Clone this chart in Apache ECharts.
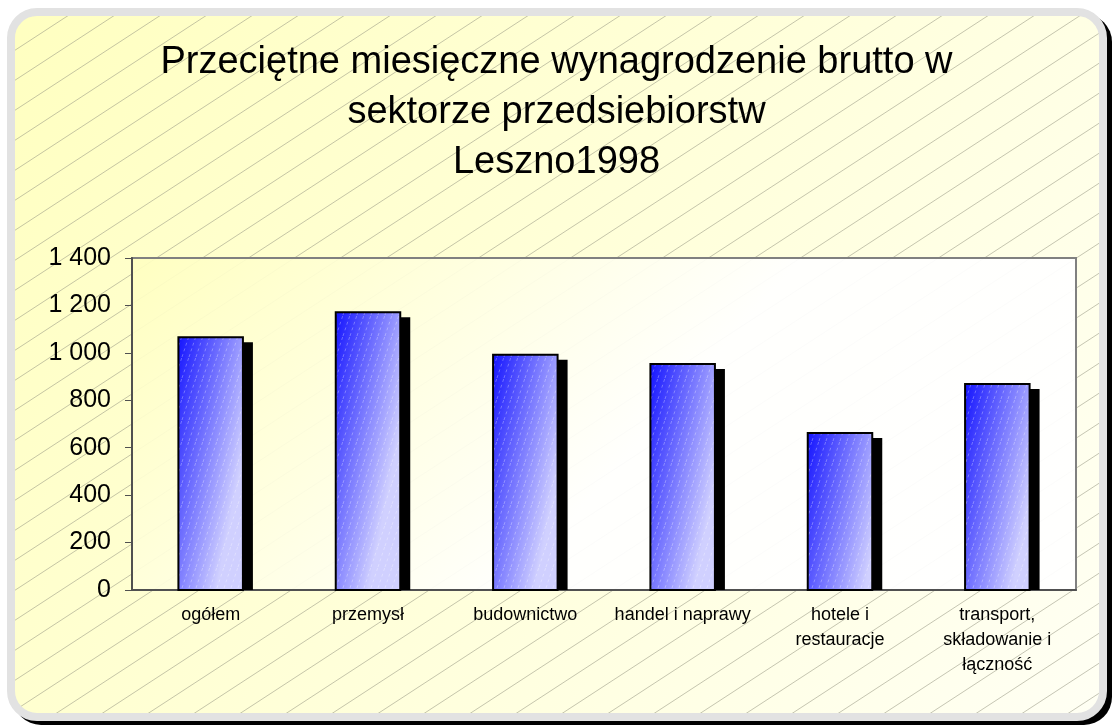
<!DOCTYPE html>
<html>
<head>
<meta charset="utf-8">
<script src="https://cdn.jsdelivr.net/npm/echarts@6/dist/echarts.min.js"></script>
<style>
  html, body { margin: 0; padding: 0; background: #fff; }
  #main { width: 1113px; height: 726px; }
</style>
</head>
<body>
<div id="main"></div>
<script>
// dane z wykresu
var categories = ['ogółem', 'przemysł', 'budownictwo', 'handel i naprawy', 'hotele i\nrestauracje', 'transport,\nskładowanie i\nłączność'];
var wages = [1066, 1171, 992, 953, 662, 869];
var titleText = 'Przeciętne miesięczne wynagrodzenie brutto w\nsektorze przedsiebiorstw\nLeszno1998';

// wzorek ukośnych linii na tło
function hatch() {
  var c = document.createElement('canvas');
  c.width = 46; c.height = 30;
  var ctx = c.getContext('2d');
  ctx.strokeStyle = 'rgba(150,150,130,0.55)';
  ctx.lineWidth = 1;
  for (var k = -1; k <= 1; k++) {
    ctx.beginPath();
    ctx.moveTo(-2, 30 + 30 * 2 / 46 + k * 30);
    ctx.lineTo(48, 30 - 30 * 48 / 46 + k * 30);
    ctx.stroke();
  }
  return c;
}

// jasne kreski na słupkach
function barHatch() {
  var c = document.createElement('canvas');
  c.width = 7; c.height = 21;
  var ctx = c.getContext('2d');
  ctx.strokeStyle = 'rgba(255,255,255,0.3)';
  ctx.lineWidth = 1;
  ctx.setLineDash([3, 3]);
  for (var k = -1; k <= 1; k++) {
    ctx.beginPath();
    ctx.moveTo(k * 7, 21);
    ctx.lineTo(k * 7 + 7, 0);
    ctx.stroke();
  }
  return c;
}
var barPattern = barHatch();

var myChart = echarts.init(document.getElementById('main'));

var option = {
  animation: false,
  title: {
    text: titleText,
    left: 'center',
    top: 33,
    textStyle: { fontFamily: 'Liberation Sans', fontWeight: 'normal', fontSize: 38, lineHeight: 50, color: '#000' }
  },
  graphic: [
    {
      type: 'rect', z: -12, shape: { x: 13, y: 14, width: 1099, height: 711, r: 28 },
      style: { fill: '#000' }
    },
    {
      type: 'rect', z: -11, shape: { x: 11, y: 12, width: 1092, height: 705, r: 26 },
      style: {
        fill: new echarts.graphic.LinearGradient(0, 0, 1, 1, [
          { offset: 0, color: '#ffffc0' },
          { offset: 1, color: '#fffff4' }
        ]),
        stroke: '#e2e2e2', lineWidth: 8
      }
    },
    {
      type: 'rect', z: -10, shape: { x: 15, y: 16, width: 1084, height: 697, r: 22 },
      style: { fill: { image: hatch(), repeat: 'repeat' } }
    }
  ],
  grid: {
    left: 132, top: 258, right: 37, bottom: 136,
    show: true,
    backgroundColor: new echarts.graphic.LinearGradient(0, 0, 0.4, 1, [
      { offset: 0, color: 'rgba(255,255,192,0.92)' },
      { offset: 1, color: 'rgba(255,255,255,0.94)' }
    ]),
    borderColor: '#808080', borderWidth: 2
  },
  xAxis: {
    type: 'category',
    data: categories,
    axisLine: { lineStyle: { color: '#505050', width: 2 } },
    axisTick: { length: 6, lineStyle: { color: '#505050' } },
    axisLabel: { fontFamily: 'Liberation Sans', fontSize: 18, lineHeight: 25, color: '#000', margin: 13, interval: 0 }
  },
  yAxis: {
    type: 'value', min: 0, max: 1400, interval: 200,
    axisLine: { show: true, lineStyle: { color: '#505050', width: 2 } },
    axisTick: { show: true, length: 7, lineStyle: { color: '#505050' } },
    splitLine: { show: false },
    axisLabel: {
      fontFamily: 'Liberation Sans', fontSize: 25, color: '#000', margin: 21,
      formatter: function (v) { return String(v).replace(/\B(?=(\d{3})+(?!\d))/g, ' '); }
    }
  },
  series: [{
    type: 'custom',
    data: wages.map(function (v, i) { return [i, v]; }),
    encode: { x: 0, y: 1 },
    renderItem: function (params, api) {
      var top = api.coord([api.value(0), api.value(1)]);
      var base = api.coord([api.value(0), 0]);
      var bw = api.size([1, 0])[0] * 0.41;
      var x = top[0] - bw / 2;
      var h = base[1] - top[1];
      return {
        type: 'group',
        children: [
          { type: 'rect', shape: { x: x + 10, y: top[1] + 5, width: bw, height: h - 5 }, style: { fill: '#000' } },
          {
            type: 'rect', shape: { x: x, y: top[1], width: bw, height: h },
            style: {
              fill: new echarts.graphic.LinearGradient(x, top[1], x + 85, top[1] + 17, [
                { offset: 0, color: '#1414ff' },
                { offset: 1, color: '#d0d0ff' }
              ], true)
            }
          },
          {
            type: 'rect', shape: { x: x, y: top[1], width: bw, height: h },
            style: { fill: { image: barPattern, repeat: 'repeat' }, stroke: '#000', lineWidth: 2 }
          }
        ]
      };
    }
  }]
};

myChart.setOption(option);
</script>
</body>
</html>
